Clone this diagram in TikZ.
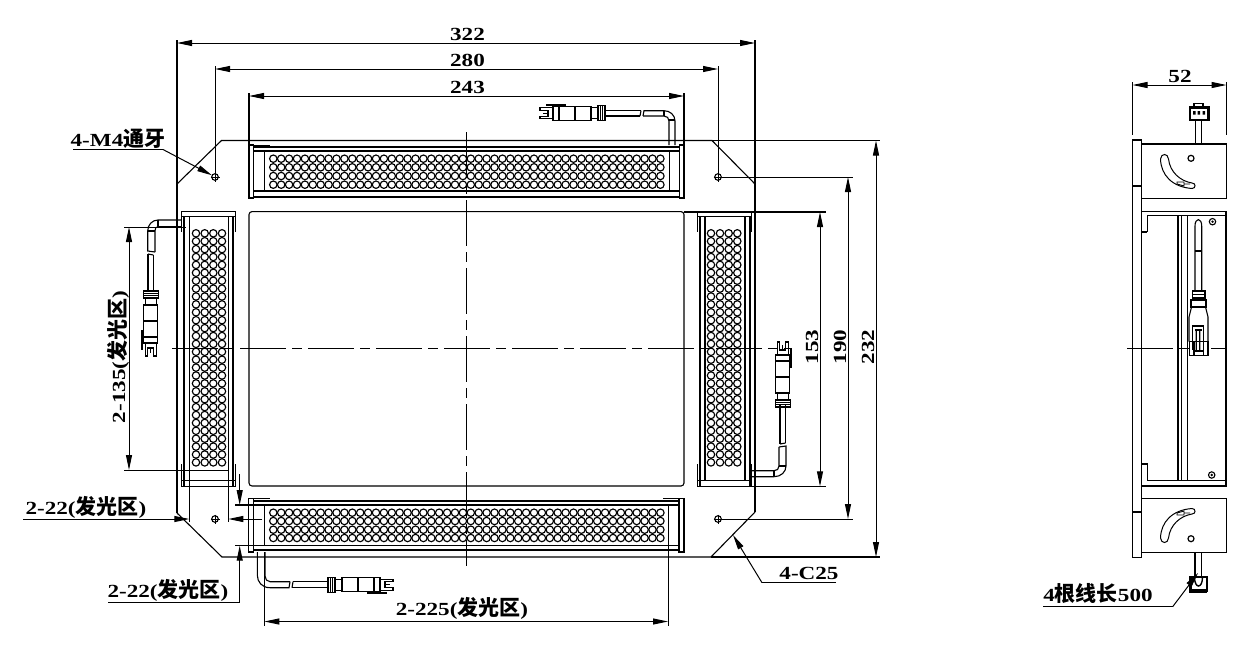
\documentclass[tikz,border=0pt]{standalone}
\usepackage{fontspec}
\usetikzlibrary{arrows.meta}
\newfontfamily\latfont[FakeStretch=1.25]{Liberation Serif}
\newfontfamily\cjkfont{Noto Sans CJK SC}
\newcommand{\zh}[1]{{\cjkfont\bfseries\fontsize{21}{21}\selectfont #1}}
\tikzset{
  part/.style={line width=1.1pt,black},
  thin/.style={line width=.9pt,black},
  heavy/.style={line width=2.2pt,black},
  centre/.style={line width=.95pt,black,dash pattern=on 46pt off 6pt on 10pt off 6pt},
  dimline/.style={line width=1pt,black,{Triangle[length=15pt,width=6pt]}-{Triangle[length=15pt,width=6pt]}},
  leader/.style={line width=1pt,black},
  headend/.style={line width=1pt,black,-{Triangle[length=15pt,width=6pt]}},
  lab/.style={inner sep=0pt,font=\latfont\bfseries\fontsize{18.5}{18.5}\selectfont},
  led/.style={line width=1.15pt,black},
  slotline/.style={line width=1pt,black}
}
% connector: origin at the cable end, u along it, v across it
\newcommand{\plug}[2]{%
\begin{scope}[shift={#1},#2]
  \draw[part] (0,-7.5) rectangle (7,7.5);
  \draw[thin] (2.5,-7.5)--(2.5,7.5) (4.5,-7.5)--(4.5,7.5);
  \draw[part] (7,-5.5)--(14,-5.5) (7,5.5)--(14,5.5);
  \draw[part] (14,-7) rectangle (46,7);
  \draw[part] (30,-7)--(30,7);
  \draw[line width=2.4pt] (39,8.5)--(59,8.5);
  \draw[part] (46,-7) rectangle (52,7);
  \draw[part] (52,-5.5)--(65,-5.5)--(65,-3)--(57,-3)--(57,3)--(65,3)--(65,5.5)--(52,5.5);
  \draw[thin] (57,0)--(62,0);
\end{scope}}
\begin{document}
\begin{tikzpicture}[x=1pt,y=-1pt]
\useasboundingbox (0,0) rectangle (1248,646);

% ---------- plate outline
\coordinate (pTL) at (221.5,140.5);
\coordinate (pTR) at (712,140.5);
\coordinate (pRT) at (755,184);
\coordinate (pRB) at (755,512);
\coordinate (pBR) at (711,557);
\coordinate (pBL) at (222,557);
\coordinate (pLB) at (177,513);
\coordinate (pLT) at (177,184);
\draw[part] (pLT)--(pTL)--(pTR)--(pRT) (pRB)--(pBR)--(pBL)--(pLB);
\draw[part] (177,40)--(pLB);
\draw[part] (755,40)--(pRB);
\draw[part] (pTR)--(880,140.5);
\draw[part] (pBR)--(880,557);

% window
\draw[part,rounded corners=3pt] (249,211.6) rectangle (684,486);
\draw[part] (249,93)--(249,145) (684,93)--(684,145);
\draw[part] (684,212)--(826,212);
\draw[part] (751,486.3)--(826,486.3);

% ---------- top lamp
\draw[part] (249,145) rectangle (253.5,198);
\draw[part] (679.3,145) rectangle (684,198);
\draw[thin] (253.5,145)--(270,145);
\draw[heavy] (253.5,147)--(679.3,147);
\draw[heavy] (253.5,197)--(679.3,197);
\draw[part] (253.5,151)--(679.3,151) (253.5,191)--(679.3,191);
\draw[thin] (264.7,151)--(264.7,191) (669,151)--(669,191);
\foreach \yy in {158.7,167.3,176,184.7}
  \foreach \i in {0,...,49}
    \draw[led] ({273.3+7.9*\i},\yy) circle[radius=3.7];

% ---------- bottom lamp
\draw[part] (248.5,498.3) rectangle (253.5,552);
\draw[part] (679,498.3) rectangle (684,552);
\draw[thin] (253.5,498.3)--(270,498.3) (663,498.3)--(679,498.3);
\draw[heavy] (253.5,500.7)--(679,500.7);
\draw[heavy] (253.5,550)--(679,550);
\draw[part] (235,505)--(679,505) (235,545.7)--(679,545.7);
\draw[thin] (264.3,505)--(264.3,545.7) (668,505)--(668,545.7);
\foreach \yy in {512.7,521,529.7,538}
  \foreach \i in {0,...,49}
    \draw[led] ({273.3+7.9*\i},\yy) circle[radius=3.7];

% ---------- left lamp
\draw[part] (181.7,211.7) rectangle (235.5,216.7);
\draw[part] (181.7,216.7)--(181.7,232) (235.5,216.7)--(235.5,232);
\draw[part] (181.7,464.3)--(181.7,486.2)--(235.5,486.2)--(235.5,464.3);
\draw[part] (181.7,480.7)--(235.5,480.7);
\draw[line width=1.5pt] (184.2,216.7)--(184.2,486) (189.3,216.7)--(189.3,521.5);
\draw[line width=1.5pt] (228.3,216.7)--(228.3,521.5) (233,216.7)--(233,486);
\foreach \xx in {196,204.7,213.3,222}
  \foreach \i in {0,...,29}
    \draw[led] (\xx,{233.3+7.9*\i}) circle[radius=3.7];

% ---------- right lamp
\draw[part] (697.3,211.7) rectangle (751.5,216.7);
\draw[part] (697.3,216.7)--(697.3,232) (751.5,216.7)--(751.5,232);
\draw[part] (697.3,464.3)--(697.3,486.2)--(751.5,486.2)--(751.5,464.3);
\draw[part] (697.3,480.7)--(751.5,480.7);
\draw[line width=1.5pt] (700,216.7)--(700,486) (705,216.7)--(705,481);
\draw[line width=1.5pt] (745,216.7)--(745,481) (750,216.7)--(750,486);
\foreach \xx in {711,720,728.7,737.3}
  \foreach \i in {0,...,29}
    \draw[led] (\xx,{233.3+7.9*\i}) circle[radius=3.7];

% ---------- holes
\foreach \hx/\hy in {215/177,718/177,215/519,718/519}{
  \draw[part] (\hx,\hy) circle[radius=3.3];
  \draw[thin] (\hx-4.5,\hy)--(\hx+4.5,\hy) (\hx,\hy-4.5)--(\hx,\hy+4.5);
}

% ---------- cables and plugs
% top
\draw[part] (675,145)--(675,121) .. controls (675,115) and (670,110.7) .. (664,110.7)--(644,110.7)--(643,116);
\draw[part] (669,145)--(669,121) .. controls (669,118) and (667,116) .. (664,116)--(643,116);
\draw[part] (664,110.7)--(664,116) (669,120)--(675,120);
\draw[part] (641,110.7)--(640,116);
\draw[part] (641,110.7)--(605,110.7) (640,116)--(605,116);
\plug{(605,113.4)}{x={(-1pt,0pt)},y={(0pt,1pt)}}
% bottom
\draw[part] (257.3,552)--(257.3,575) .. controls (257.3,582) and (262,587.7) .. (270,587.7)--(289,587.7)--(290,581.7);
\draw[part] (265,552)--(265,576) .. controls (265,579) and (267,581.7) .. (270,581.7)--(290,581.7);
\draw[part] (292,587.7)--(293,581.7);
\draw[part] (292,587.7)--(328,587.7) (293,581.7)--(328,581.7);
\plug{(328,584.7)}{x={(1pt,0pt)},y={(0pt,-1pt)}}
% left
\draw[part] (181.7,220)--(158,220) .. controls (152,220) and (147.7,225) .. (147.7,231)--(147.7,251)--(155,252);
\draw[part] (181.7,226.7)--(158,226.7) .. controls (156,226.7) and (155,228) .. (155,231)--(155,252);
\draw[part] (158,220)--(158,226.7) (147.7,231)--(155,231);
\draw[part] (148,254)--(153.3,255);
\draw[part] (148,254)--(148,291) (153.3,255)--(153.3,291);
\plug{(150.7,291)}{x={(0pt,-1pt)},y={(-1pt,0pt)}}
% right
\draw[part] (751,476.7)--(774,476.7) .. controls (781,476.7) and (786,472) .. (786,466)--(786,446)--(779,447);
\draw[part] (751,470.7)--(774,470.7) .. controls (777,470.7) and (779,469) .. (779,466)--(779,447);
\draw[part] (774,470.7)--(774,476.7) (779,466)--(786,466);
\draw[part] (780,444)--(785.5,443);
\draw[part] (780,444)--(780,405) (785.5,443)--(785.5,405);
\plug{(782.7,407)}{x={(0pt,1pt)},y={(1pt,0pt)}}

% ---------- centre lines
\draw[centre] (466,132)--(466,566);
\draw[centre] (172,348)--(790,348);

% ---------- dimensions on top
\coordinate (a322) at (177,43);  \coordinate (b322) at (755,43);
\coordinate (a280) at (215,69);  \coordinate (b280) at (718,69);
\coordinate (a243) at (249,96);  \coordinate (b243) at (684,96);
\draw[dimline] (a322)--(b322);
\draw[dimline] (a280)--(b280);
\draw[dimline] (a243)--(b243);
\draw[leader] (215,66)--(215,173.7) (718,66)--(718,173.7);
\node[lab] (t322) at (467.5,34) {322};
\node[lab] (t280) at (467.5,60) {280};
\node[lab] (t243) at (467.5,87) {243};

% ---------- dimensions on the right
\coordinate (a232) at (876,140.5); \coordinate (b232) at (876,557);
\coordinate (a190) at (848,177);   \coordinate (b190) at (848,519);
\coordinate (a153) at (820,212);   \coordinate (b153) at (820,486.3);
\draw[dimline] (a232)--(b232);
\draw[dimline] (a190)--(b190);
\draw[dimline] (a153)--(b153);
\draw[leader] (721.3,177)--(853,177) (721.3,519)--(853,519);
\node[lab,rotate=90] (t232) at (868,347) {232};
\node[lab,rotate=90] (t190) at (840,347) {190};
\node[lab,rotate=90] (t153) at (812,347) {153};

% ---------- 2-135
\coordinate (a135) at (129,227); \coordinate (b135) at (129,470);
\draw[dimline] (a135)--(b135);
\draw[leader] (124,227)--(186,227) (124,470)--(228,470);
\node[lab,rotate=90] (t135) at (118,357) {2-135(\zh{发光区})};

% ---------- 2-225
\coordinate (a225) at (264.3,621.5); \coordinate (b225) at (668,621.5);
\draw[dimline] (a225)--(b225);
\draw[leader] (264.3,552)--(264.3,626) (668,545.7)--(668,626);
\node[lab] (t225) at (462,608) {2-225(\zh{发光区})};

% ---------- 2-22 horizontal
\coordinate (h22a) at (23,519);
\coordinate (h22b) at (189.3,519);
\coordinate (h22c) at (228.3,519);
\coordinate (h22d) at (262,519);
\draw[headend] (h22a)--(h22b);
\draw[headend] (h22d)--(h22c);
\node[lab] (t22a) at (86,507) {2-22(\zh{发光区})};

% ---------- 2-22 vertical
\coordinate (v22a) at (239.7,474);
\coordinate (v22b) at (239.7,505);
\coordinate (v22c) at (239.7,602.5);
\coordinate (v22d) at (239.7,545.7);
\coordinate (v22e) at (108,602.5);
\draw[headend] (v22a)--(v22b);
\draw[leader] (v22e)--(v22c);
\draw[headend] (v22c)--(v22d);
\node[lab] (t22b) at (168,590) {2-22(\zh{发光区})};

% ---------- 4-M4
\coordinate (m4a) at (73,149.5);
\coordinate (m4b) at (163,149.5);
\coordinate (m4c) at (212,175.3);
\draw[leader] (m4a)--(m4b);
\draw[headend] (m4b)--(m4c);
\node[lab] (tm4) at (118,139) {4-M4\zh{通牙}};

% ---------- 4-C25
\coordinate (c25a) at (836,582.7);
\coordinate (c25b) at (762,582.7);
\coordinate (c25c) at (733,535);
\draw[leader] (c25a)--(c25b);
\draw[headend] (c25b)--(c25c);
\node[lab] (tc25) at (809,573) {4-C25};

% ========== side view
\coordinate (a52) at (1132.5,85); \coordinate (b52) at (1226.5,85);
\draw[dimline] (a52)--(b52);
\draw[leader] (1132.5,82)--(1132.5,135) (1226.5,82)--(1226.5,135);
\node[lab] (t52) at (1180,76) {52};

% small plug on top
\draw[part] (1195.7,120)--(1195.7,144) (1201.7,120)--(1201.7,144);
\draw[line width=2.6pt] (1189.8,107.5) rectangle (1208.5,120);
\draw[line width=1.2pt] (1194,107.5)--(1194,103.5)--(1203,103.5)--(1203,107.5);
\fill (1193,111) rectangle (1195.5,114.5) (1197.5,111) rectangle (1200,114.5) (1202.5,111) rectangle (1205,114.5);

% plate edge and blocks
\draw[part] (1132.3,140) rectangle (1141.7,557.3);
\draw[part] (1132.3,186)--(1141.7,186) (1132.3,512)--(1141.7,512);
\draw[part] (1141.7,144) rectangle (1226.7,198.3);
\draw[part] (1141.7,498.3) rectangle (1226.7,552.7);
\draw[part] (1141.7,211.7)--(1226.7,211.7);
\draw[line width=1.4pt] (1147.3,215.7)--(1226.7,215.7);
\draw[part] (1141.7,232)--(1147.3,232) (1147.3,215.7)--(1147.3,232);
\draw[part] (1141.7,464)--(1147.3,464)--(1147.3,480.7);
\draw[line width=1.4pt] (1147.3,480.7)--(1226.7,480.7);
\draw[part] (1141.7,486)--(1226.7,486);
\draw[line width=1.8pt] (1177.7,215.7)--(1177.7,480.7);
\draw[part] (1181.7,215.7)--(1181.7,480.7) (1187.3,215.7)--(1187.3,480.7);
\draw[line width=1.8pt] (1226.2,211.7)--(1226.2,486);

% screws
\foreach \sx/\sy in {1212.5/221.7,1211.7/475}{
  \draw[line width=1.1pt] (\sx,\sy) circle[radius=3.2];
  \fill (\sx,\sy) circle[radius=1.3];
}

% block holes
\draw[line width=1.2pt] (1191,158.3) circle[radius=3];
\draw[line width=1.2pt] (1191,538.7) circle[radius=3];

% curved slots
\foreach \mm/\oo in {1/0,-1/697}{
  \begin{scope}[shift={(0,\oo)},y={(0pt,\mm*-1pt)}]
    \draw[slotline] (1160.5,159) .. controls (1161,175) and (1172,187) .. (1192,188.5)
       .. controls (1196,188.5) and (1196,183) .. (1192,183)
       .. controls (1180,181) and (1170,172) .. (1168.5,159)
       .. controls (1168,153) and (1161,153) .. (1160.5,159);
    \draw[thin] (1177,184)--(1177,182)--(1184,182)--(1184,184)--(1190,184) (1184,184)--(1184,186)--(1177,184);
  \end{scope}
}

% side cable
\draw[part] (1195,290)--(1195,226) .. controls (1195,217.5) and (1201.7,217.5) .. (1201.7,226)--(1201.7,290);
\draw[line width=2.4pt] (1195,251)--(1201.7,251);

% side plug
\draw[part] (1192.3,291) rectangle (1205,298);
\draw[part] (1192.3,294.5)--(1205,294.5);
\draw[part] (1191,300) rectangle (1206,307);
\draw[line width=1.8pt] (1191,300)--(1206,300);
\draw[line width=1.8pt] (1192,306.5)--(1205,306.5);
\draw[part] (1191.5,307)--(1189,317)--(1189,341.7) (1205.5,307)--(1208,317)--(1208,341.7);
\draw[line width=1.6pt] (1192.5,349.5)--(1192.5,326)--(1203.5,326)--(1203.5,349.5);
\draw[part] (1194.5,330)--(1201.5,330);
\fill (1195.5,331) rectangle (1196.8,351) (1199,331) rectangle (1200.3,351);
\draw[line width=1.4pt] (1189.5,341.7) rectangle (1208,355.5);
\draw[part] (1194,341.7)--(1194,355.5) (1203.5,341.7)--(1203.5,355.5) (1194,351)--(1203.5,351);

% side centre line
\draw[centre] (1127,348)--(1192,348);
\draw[thin] (1211,348)--(1225,348);

% bottom cable end
\draw[part] (1195,552.7)--(1195,576) (1201.7,552.7)--(1201.7,576);
\draw[line width=2.4pt] (1190.5,577) rectangle (1207,591);
\draw[line width=3.5pt] (1190.5,577)--(1190.5,591)--(1207,591);
\draw[line width=1.4pt] (1194.5,577) .. controls (1194.5,589) and (1202.5,589) .. (1202.5,577);

% 4 wires label
\coordinate (w4a) at (1043,606.7);
\coordinate (w4b) at (1172.7,606.7);
\coordinate (w4c) at (1198,573);
\draw[leader] (w4a)--(w4b);
\draw[headend] (w4b)--(w4c);
\node[lab] (tw4) at (1098,594) {4\zh{根线长}500};
\end{tikzpicture}
\end{document}
